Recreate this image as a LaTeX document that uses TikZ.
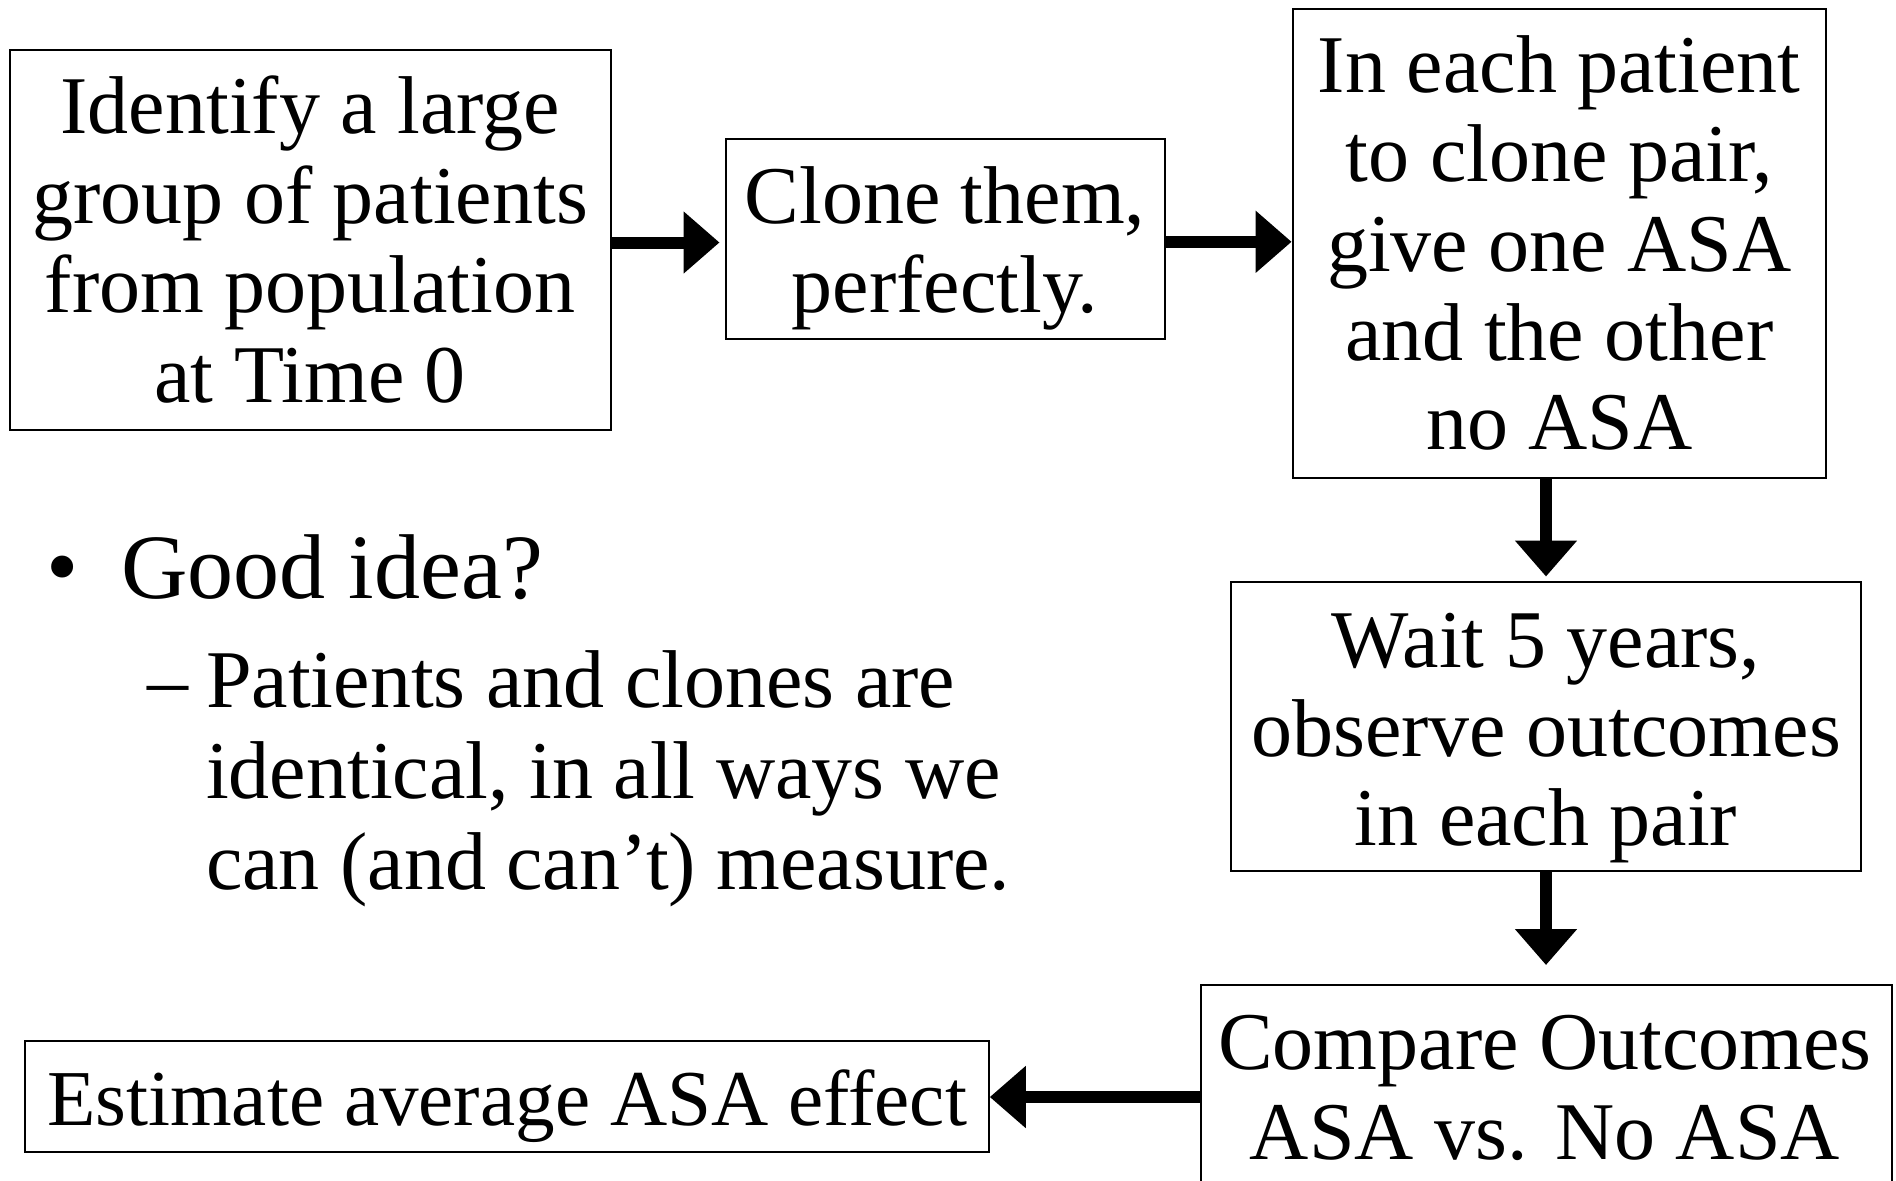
\documentclass[tikz,border=0pt]{standalone}
\usepackage{fontspec}
\setmainfont{Liberation Serif}
\usetikzlibrary{arrows.meta}
\begin{document}
\begin{tikzpicture}[x=0.5pt,y=-0.5pt,
 frame/.style={draw, line width=1pt, inner sep=0pt},
 box/.style={frame, align=center, font=\fontsize{41}{44.7}\selectfont},
 label/.style={inner sep=0pt, align=center, font=\fontsize{41}{44.7}\selectfont},
 arr/.style={line width=6pt, -{Triangle[length=18pt,width=30pt]}},
 txt/.style={inner sep=0pt, font=\fontsize{41}{45.5}\selectfont},
]
\useasboundingbox (0,0) rectangle (1896,1180);
\fill[white] (0,0) rectangle (1896,1180);

\node[box, minimum width=300.5pt, minimum height=190pt] (b1) at (310.2,239.5)
  {Identify a large\\group of patients\\from population\\at Time 0};
\node[frame, minimum width=219.5pt, minimum height=100pt] (b2) at (945,238.8) {};
\node[label] (t2) at (945,248.5) {Clone them,\\perfectly.};
\node[box, minimum width=266.7pt, minimum height=234.5pt] (b3) at (1559.3,243)
  {In each patient\\to clone pair,\\give one ASA\\and the other\\no ASA};
\node[frame, minimum width=315pt, minimum height=144.5pt] (b4) at (1546,726) {};
\node[label] (t4) at (1546,738) {Wait 5 years,\\observe outcomes\\in each pair};
\node[frame, anchor=north west, minimum width=345.75pt, minimum height=112pt] (b5) at (1199.5,984) {};
\node[label] (t5) at (1545,1088) {Compare Outcomes\\ASA vs. No ASA};
\node[frame, minimum width=481.8pt, minimum height=55.5pt] (b6) at (507,1096.5) {};
\node[label, font=\fontsize{39.6}{44}\selectfont] (t6) at (507,1106) {Estimate average ASA effect};

\draw[arr, shorten >=2.5pt] ([yshift=-1.5pt]b1.east) -- ([yshift=-1.5pt]b1.east -| b2.west);
\draw[arr] ([yshift=-1.5pt]b2.east) -- ([yshift=-1.5pt]b2.east -| b3.west);
\draw[arr, shorten >=2pt] (b4.north |- b3.south) -- (b4.north);
\draw[arr, shorten >=9.5pt] (b4.south) -- (b4.south |- b5.north);
\draw[arr] (b5.west) -- (b5.west -| b6.east);

\node[inner sep=0pt, font=\fontsize{46}{50}\selectfont] (bul) at (63,577) {•};
\node[txt, anchor=base west, font=\fontsize{46}{50}\selectfont] (good) at (121,598) {Good idea?};
\node[txt, anchor=base west] (dash) at (147,707) {–};
\node[txt, anchor=base west, align=left] (sub) at (205.6,889)
  {Patients and clones are\\identical, in all ways we\\can (and can’t) measure.};
\end{tikzpicture}
\end{document}
